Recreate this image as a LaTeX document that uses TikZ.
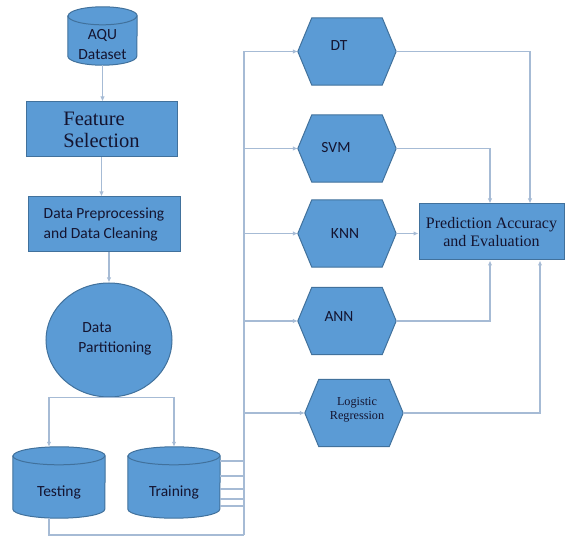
\documentclass[tikz,border=0pt]{standalone}
\usepackage{fontspec}
\setmainfont{Liberation Serif}
\newfontfamily\calibri{Carlito}
\usetikzlibrary{shapes.geometric,arrows.meta}
\pgfdeclarelayer{background}
\pgfsetlayers{background,main}
\definecolor{boxfill}{HTML}{5B9BD5}
\definecolor{boxline}{HTML}{41719C}
\definecolor{conn}{HTML}{A6BBD5}
\definecolor{txt}{HTML}{141430}
\tikzset{
  shp/.style={fill=boxfill, draw=boxline, line width=1pt},
  rbox/.style={shp, rectangle, inner sep=0pt},
  ghost/.style={rectangle, draw=none, inner sep=0pt},
  hexbox/.style={ghost, minimum width=98pt, minimum height=67pt},
  sansT/.style={font=\calibri\fontsize{15.5}{20}\selectfont, text=txt},
  serifT/.style={font=\fontsize{16}{17.5}\selectfont, text=txt},
  arr/.style={draw=conn, line width=1.2pt, -{Latex[length=5pt,width=4.5pt]}},
  ln/.style={draw=conn, line width=1.2pt},
}
\newcommand\hexpath[1]{\path[shp] (#1.west) -- ([xshift=14pt]#1.north west) -- ([xshift=-14pt]#1.north east) -- (#1.east) -- ([xshift=-14pt]#1.south east) -- ([xshift=14pt]#1.south west) -- cycle;}
\newcommand\cylpath[2]{%
  \path[shp] ([yshift=-9pt]#1.north west) -- ([yshift=9pt]#1.south west)
    arc[start angle=180,end angle=360,x radius=#2,y radius=9pt]
    -- ([yshift=-9pt]#1.north east)
    arc[start angle=0,end angle=180,x radius=#2,y radius=9pt] -- cycle;
  \draw[draw=boxline,line width=1pt] ([yshift=-9pt]#1.north west)
    arc[start angle=180,end angle=360,x radius=#2,y radius=9pt];}
\begin{document}
\begin{tikzpicture}[x=1pt,y=-1pt]
\useasboundingbox (0,0) rectangle (566,537);

% left column
\node[ghost, minimum width=69pt, minimum height=58pt,
  label={[sansT, align=center, yshift=-9pt]center:{AQU\\Dataset}}] (aqu) at (102.5,36) {};
\node[rbox, minimum width=151pt, minimum height=55pt,
  font=\fontsize{20.5}{22}\selectfont, text=txt, align=left] (fs) at (101.5,129.5) {Feature\\Selection};
\node[rbox, minimum width=152pt, minimum height=55pt, sansT, align=left] (dp) at (104,224.5)
  {Data Preprocessing\\and Data Cleaning};
\node[shp, ellipse, minimum width=126pt, minimum height=114pt, inner sep=0pt,
  label={[sansT, align=left, xshift=6pt, yshift=1pt]center:{\hspace{4pt}Data\\Partitioning}}] (part) at (109,340) {};
\node[ghost, minimum width=92pt, minimum height=71pt,
  label={[sansT, yshift=-10pt]center:Testing}] (test) at (59,482.5) {};
\node[ghost, minimum width=92pt, minimum height=71pt,
  label={[sansT, yshift=-10pt]center:Training}] (train) at (174,482.5) {};

% classifiers
\node[hexbox, label={[sansT, xshift=-8pt, yshift=6pt]center:DT}] (dt) at (347,51.5) {};
\node[hexbox, label={[sansT, xshift=-11pt, yshift=1pt]center:SVM}] (svm) at (347,148.5) {};
\node[hexbox, label={[sansT, xshift=-2pt]center:KNN}] (knn) at (347,233.5) {};
\node[hexbox, label={[sansT, xshift=-8pt, yshift=4pt]center:ANN}] (ann) at (347,321) {};
\node[hexbox, label={[font=\fontsize{12.2}{14}\selectfont, text=txt, align=center, xshift=3pt, yshift=3pt]center:{Logistic\\Regression}}] (lr) at (354,413) {};

\node[rbox, minimum width=145pt, minimum height=56pt, serifT, align=center] (pred) at (491.5,232)
  {Prediction Accuracy\\and Evaluation};

\begin{pgfonlayer}{background}
  \cylpath{aqu}{34.5pt}
  \cylpath{test}{46pt}
  \cylpath{train}{46pt}
  \hexpath{dt}
  \hexpath{svm}
  \hexpath{knn}
  \hexpath{ann}
  \hexpath{lr}
\end{pgfonlayer}

% connectors left column
\draw[arr] (aqu.south) -- (aqu.south |- fs.north);
\draw[arr] (fs.south) -- (fs.south |- dp.north);
\draw[arr] (part.north |- dp.south) -- (part.north);
\draw[arr] (part.south) -| ([xshift=-10pt]test.north);
\draw[arr] (part.south) -| (train.north);

% bus
\coordinate (busb) at (244,535);
\coordinate (bust) at (244,51.5);
\draw[ln] ([xshift=-10pt]test.south) |- (busb);
\draw[ln] (busb) -- (bust);
\foreach \dy [count=\i] in {21.5,6.5,-6.5,-16.5,-23.5}{
  \path ([yshift=\dy pt]train.east) coordinate (tr\i);
  \draw[ln] (tr\i) -- (tr\i -| bust);
}
\foreach \h in {dt,svm,knn,ann,lr}{
  \draw[arr] (\h.west -| bust) -- (\h.west);
}

% to prediction
\draw[arr] (dt.east) -| ([xshift=38.5pt]pred.north);
\draw[arr] (svm.east) -| ([xshift=-1.5pt]pred.north);
\draw[arr] (knn.east) -- (knn.east -| pred.west);
\draw[arr] (ann.east) -| ([xshift=-1.5pt]pred.south);
\draw[arr] (lr.east) -| ([xshift=48.5pt]pred.south);
\end{tikzpicture}
\end{document}
